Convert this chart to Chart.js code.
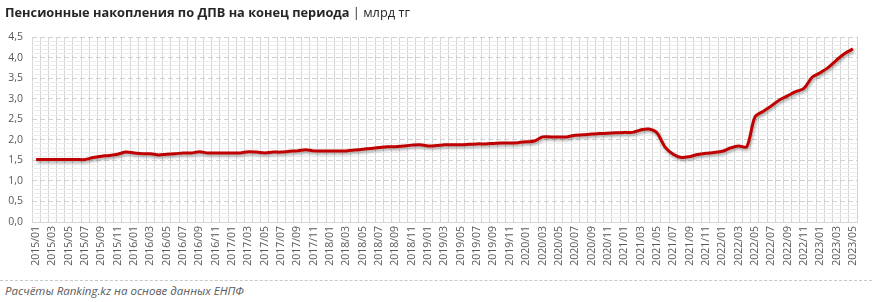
<!DOCTYPE html>
<html>
<head>
<meta charset="utf-8">
<script src="https://cdn.jsdelivr.net/npm/chart.js@4.4.0/dist/chart.umd.min.js"></script>
<style>
  body { margin: 0; background: #fff; }
  #wrap { position: relative; width: 872px; height: 302px; overflow: hidden; }
  #title { position: absolute; left: 5px; top: 3px; font-family: "Open Sans", sans-serif; font-size: 12.8px; color: #262626; white-space: nowrap; }
  #title b { font-weight: 700; }
  #chartBox { position: absolute; left: 0; top: 0; width: 872px; height: 278px; }
  #footer { position: absolute; left: 0; top: 280px; width: 872px; border-top: 1px dashed #c8c8c8; }
  #footer span { position: absolute; left: 5px; top: 2px; font-family: "Open Sans", sans-serif; font-style: italic; font-size: 11.5px; color: #595959; white-space: nowrap; }
</style>
</head>
<body>
<div id="wrap">
  <div id="chartBox"><canvas id="chart"></canvas></div>
  <div id="title"><b>Пенсионные накопления по ДПВ на конец периода</b> | млрд тг</div>
  <div id="footer"><span>Расчёты Ranking.kz на основе данных ЕНПФ</span></div>
</div>
<script>
// Months from 2015/01 to 2023/05
const years = [2015, 2016, 2017, 2018, 2019, 2020, 2021, 2022, 2023];
const lastYearMonths = 5;

// Pension savings, bln tenge
const values2015 = [1.52, 1.52, 1.52, 1.52, 1.52, 1.52, 1.52, 1.57, 1.60, 1.62, 1.65, 1.70];
const values2016 = [1.68, 1.66, 1.66, 1.63, 1.65, 1.66, 1.68, 1.68, 1.71, 1.68, 1.68, 1.68];
const values2017 = [1.68, 1.68, 1.71, 1.70, 1.68, 1.70, 1.70, 1.72, 1.73, 1.76, 1.73, 1.73];
const values2018 = [1.73, 1.73, 1.73, 1.75, 1.77, 1.79, 1.81, 1.83, 1.83, 1.85, 1.87, 1.88];
const values2019 = [1.85, 1.86, 1.88, 1.88, 1.88, 1.89, 1.90, 1.90, 1.91, 1.92, 1.92, 1.93];
const values2020 = [1.95, 1.97, 2.07, 2.07, 2.07, 2.07, 2.11, 2.12, 2.14, 2.15, 2.16, 2.17];
const values2021 = [2.18, 2.18, 2.24, 2.26, 2.17, 1.82, 1.65, 1.57, 1.59, 1.64, 1.67, 1.69];
const values2022 = [1.72, 1.80, 1.85, 1.83, 2.55, 2.69, 2.82, 2.97, 3.07, 3.17, 3.25, 3.52];
const values2023 = [3.63, 3.76, 3.94, 4.10, 4.21];

const yTicks = [0, 0.5, 1.0, 1.5, 2.0, 2.5, 3.0, 3.5, 4.0, 4.5];

// build labels like 2015/01
const labels = [];
years.forEach(y => {
  const n = y === 2023 ? lastYearMonths : 12;
  for (let m = 1; m <= n; m++) {
    labels.push(y + '/' + String(m).padStart(2, '0'));
  }
});
const values = [].concat(values2015, values2016, values2017, values2018, values2019,
  values2020, values2021, values2022, values2023);

function isMajor(v) {
  return Math.abs(v * 2 - Math.round(v * 2)) < 1e-6;
}

// soft shadow under the line, like the original
const shadowPlugin = {
  id: 'lineShadow',
  beforeDatasetDraw(chart) {
    const c = chart.ctx;
    c.save();
    c.shadowColor = 'rgba(0,0,0,0.35)';
    c.shadowBlur = 3;
    c.shadowOffsetX = 1;
    c.shadowOffsetY = 2;
  },
  afterDatasetDraw(chart) {
    chart.ctx.restore();
  }
};

const ctx = document.getElementById('chart').getContext('2d');
new Chart(ctx, {
  type: 'line',
  data: {
    labels: labels,
    datasets: [{
      data: values,
      borderColor: '#C00000',
      borderWidth: 3,
      pointRadius: 0,
      tension: 0.3,
      fill: false
    }]
  },
  plugins: [shadowPlugin],
  options: {
    responsive: true,
    maintainAspectRatio: false,
    animation: false,
    layout: { padding: { top: 37, right: 15, left: 0, bottom: 0 } },
    plugins: {
      legend: { display: false },
      tooltip: { enabled: false }
    },
    scales: {
      x: {
        offset: true,
        grid: { offset: true, color: '#d4d4d4', lineWidth: 1, drawTicks: false },
        border: { color: '#d4d4d4' },
        ticks: {
          autoSkip: false,
          minRotation: 90,
          maxRotation: 90,
          padding: 4,
          color: '#595959',
          font: { family: 'Open Sans', size: 10.5 },
          callback: (v, i) => (i % 2 === 0 ? labels[i] : '')
        },
        afterFit: s => { s.height = 56; }
      },
      y: {
        min: 0,
        max: 4.5,
        grid: {
          drawTicks: false,
          color: c => (isMajor(c.tick.value) ? '#d0d0d0' : '#ececec'),
          lineWidth: 1
        },
        border: {
          display: false,
          dash: c => (isMajor(c.tick.value) ? [5, 3] : [])
        },
        ticks: {
          stepSize: 0.1,
          autoSkip: false,
          padding: 9,
          color: '#595959',
          font: { family: 'Open Sans', size: 10.5 },
          callback: v => {
            if (!isMajor(v)) return '';
            const t = yTicks.find(x => Math.abs(x - v) < 1e-6);
            return t === undefined ? '' : t.toFixed(1).replace('.', ',');
          }
        },
        afterFit: s => { s.width = 32; }
      }
    }
  }
});
</script>
</body>
</html>
